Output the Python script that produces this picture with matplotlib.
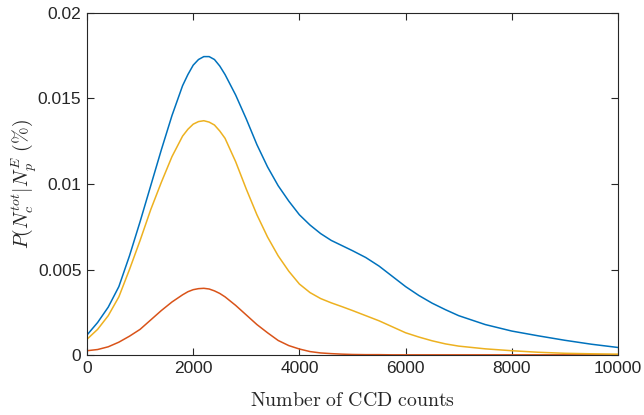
import matplotlib
matplotlib.use("Agg")
import matplotlib.pyplot as plt

# CCD count grid and probability curves
counts = [0, 200, 400, 600, 800, 1000, 1200, 1400, 1600, 1800, 1900, 2000,
          2100, 2200, 2300, 2400, 2500, 2600, 2800, 3000, 3200, 3400, 3600,
          3800, 4000, 4200, 4400, 4600, 4800, 5000, 5250, 5500, 5750, 6000,
          6250, 6500, 6750, 7000, 7500, 8000, 8500, 9000, 9500, 10000]

p_total = [0.00117, 0.0019, 0.0028, 0.0040, 0.0058, 0.0078, 0.0099, 0.0120,
           0.0140, 0.01575, 0.0164, 0.01695, 0.01728, 0.01745, 0.01745,
           0.01728, 0.0169, 0.0164, 0.0152, 0.0138, 0.0123, 0.0110, 0.0099,
           0.0090, 0.0082, 0.0076, 0.0071, 0.0067, 0.0064, 0.0061, 0.0057,
           0.0052, 0.0046, 0.0040, 0.00348, 0.00303, 0.00265, 0.00230,
           0.00178, 0.00140, 0.00112, 0.00086, 0.00063, 0.00044]

p_low = [0.00025, 0.00032, 0.00048, 0.00075, 0.0011, 0.0015, 0.00205, 0.0026,
         0.0031, 0.00352, 0.0037, 0.00382, 0.00388, 0.0039, 0.00386, 0.00375,
         0.0036, 0.0034, 0.0029, 0.00234, 0.00178, 0.0013, 0.00085, 0.00055,
         0.00035, 0.0002, 0.00012, 0.00008, 0.00005, 0.00003, 0.00002,
         0.00002, 0.00001, 0.00001, 0.00001, 0.00001, 0.00001, 0.00001,
         0.00001, 0.00001, 0.00001, 0.00001, 0.00001, 0.00001]

p_high = [0.00092, 0.0015, 0.0023, 0.0034, 0.0050, 0.0067, 0.0085, 0.0101,
          0.0116, 0.0128, 0.0132, 0.0135, 0.01365, 0.0137, 0.01362, 0.01345,
          0.0131, 0.01267, 0.0113, 0.0097, 0.0082, 0.0069, 0.0058, 0.0049,
          0.00415, 0.00365, 0.0033, 0.00305, 0.00283, 0.0026, 0.0023,
          0.0020, 0.00165, 0.0013, 0.00105, 0.00083, 0.00065, 0.00052,
          0.00036, 0.00025, 0.00016, 0.00010, 0.00007, 0.00005]

x_ticks = [0, 2000, 4000, 6000, 8000, 10000]
y_ticks = [0, 0.005, 0.01, 0.015, 0.02]
y_tick_labels = ["0", "0.005", "0.01", "0.015", "0.02"]

plt.rcParams["mathtext.fontset"] = "cm"
plt.rcParams["font.family"] = ["Liberation Sans", "DejaVu Sans"]

fig = plt.figure(figsize=(6.44, 4.15), dpi=100)
ax = fig.add_axes([87 / 644, 60 / 415, 531 / 644, 342 / 415])

ax.plot(counts, p_total, color="#0072BD", lw=1.1)
ax.plot(counts, p_low, color="#D95319", lw=1.1)
ax.plot(counts, p_high, color="#EDB120", lw=1.1)

ax.set_xlim(0, 10000)
ax.set_ylim(0, 0.02)
ax.set_xticks(x_ticks)
ax.set_xticklabels([str(v) for v in x_ticks])
ax.set_yticks(y_ticks)
ax.set_yticklabels(y_tick_labels)

axis_color = "#262626"
for s in ax.spines.values():
    s.set_color(axis_color)
    s.set_linewidth(0.8)
ax.tick_params(direction="in", length=5, width=0.8, colors=axis_color,
               labelsize=12.5, top=True, right=True, pad=4)
for lab in ax.get_xticklabels() + ax.get_yticklabels():
    lab.set_color(axis_color)

ax.set_xlabel(r"$\mathrm{Number\ of\ CCD\ counts}$", fontsize=14.3,
              color=axis_color, labelpad=11)
ax.set_ylabel(r"$P(N_c^{tot}|N_p^E\ (\%)$", fontsize=14.3,
              color=axis_color, labelpad=-1)

fig.savefig("out.png", dpi=100)
